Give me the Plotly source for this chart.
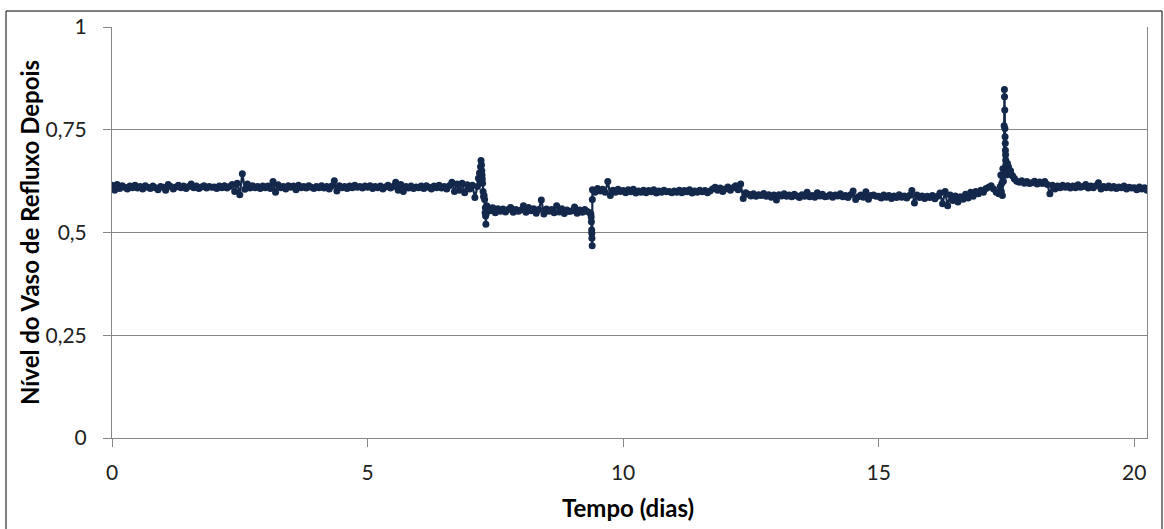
import plotly.graph_objects as go

# Reflux vessel level logged every 0.05 day (one row per day, 20 samples each)
SAMPLE_INTERVAL_DAYS = 0.05
level_by_day = [
    [0.615, 0.603, 0.617, 0.607, 0.614, 0.610, 0.606, 0.613, 0.609, 0.615, 0.608, 0.612, 0.606, 0.614, 0.610, 0.607, 0.613, 0.609, 0.604, 0.612],
    [0.610, 0.603, 0.617, 0.612, 0.606, 0.611, 0.615, 0.609, 0.613, 0.607, 0.612, 0.618, 0.609, 0.613, 0.607, 0.611, 0.614, 0.608, 0.612, 0.610],
    [0.611, 0.607, 0.613, 0.609, 0.614, 0.608, 0.612, 0.617, 0.600, 0.620, 0.592, 0.643, 0.605, 0.618, 0.608, 0.614, 0.609, 0.612, 0.607, 0.613],
    [0.609, 0.613, 0.607, 0.624, 0.598, 0.616, 0.609, 0.612, 0.606, 0.614, 0.610, 0.613, 0.604, 0.615, 0.609, 0.612, 0.608, 0.614, 0.610, 0.607],
    [0.612, 0.609, 0.614, 0.608, 0.612, 0.606, 0.613, 0.626, 0.601, 0.614, 0.609, 0.612, 0.607, 0.613, 0.609, 0.615, 0.610, 0.612, 0.608, 0.613],
    [0.610, 0.614, 0.607, 0.612, 0.609, 0.613, 0.606, 0.611, 0.615, 0.608, 0.612, 0.622, 0.603, 0.617, 0.600, 0.612, 0.608, 0.613, 0.607, 0.611],
    [0.609, 0.613, 0.607, 0.614, 0.610, 0.606, 0.613, 0.609, 0.615, 0.608, 0.612, 0.606, 0.614, 0.622, 0.600, 0.618, 0.603, 0.620, 0.597, 0.616],
    [0.606, 0.615, 0.585, 0.612, 0.625, 0.620, 0.548, 0.562, 0.553, 0.560, 0.548, 0.558, 0.552, 0.557, 0.550, 0.556, 0.561, 0.549, 0.556, 0.552],
    [0.555, 0.565, 0.549, 0.561, 0.553, 0.558, 0.547, 0.556, 0.579, 0.545, 0.557, 0.552, 0.556, 0.548, 0.565, 0.550, 0.558, 0.546, 0.555, 0.551],
    [0.553, 0.562, 0.547, 0.555, 0.549, 0.556, 0.551, 0.548, 0.604, 0.598, 0.607, 0.601, 0.605, 0.598, 0.624, 0.590, 0.603, 0.598, 0.605, 0.600],
    [0.602, 0.597, 0.604, 0.599, 0.605, 0.596, 0.601, 0.598, 0.603, 0.597, 0.602, 0.599, 0.604, 0.596, 0.601, 0.598, 0.603, 0.599, 0.600, 0.597],
    [0.601, 0.598, 0.603, 0.597, 0.602, 0.599, 0.604, 0.596, 0.601, 0.598, 0.603, 0.599, 0.602, 0.597, 0.601, 0.606, 0.610, 0.603, 0.608, 0.600],
    [0.606, 0.611, 0.603, 0.609, 0.614, 0.604, 0.618, 0.583, 0.597, 0.593, 0.589, 0.594, 0.588, 0.592, 0.590, 0.595, 0.588, 0.592, 0.586, 0.591],
    [0.579, 0.592, 0.589, 0.594, 0.588, 0.591, 0.587, 0.593, 0.589, 0.585, 0.592, 0.588, 0.598, 0.587, 0.590, 0.586, 0.597, 0.589, 0.593, 0.587],
    [0.588, 0.592, 0.586, 0.591, 0.589, 0.594, 0.587, 0.590, 0.585, 0.592, 0.601, 0.580, 0.587, 0.591, 0.586, 0.599, 0.581, 0.590, 0.591, 0.588],
    [0.588, 0.584, 0.591, 0.586, 0.590, 0.583, 0.589, 0.585, 0.592, 0.586, 0.589, 0.584, 0.590, 0.602, 0.572, 0.591, 0.585, 0.589, 0.583, 0.588],
    [0.585, 0.590, 0.582, 0.588, 0.596, 0.570, 0.600, 0.565, 0.591, 0.578, 0.589, 0.574, 0.587, 0.581, 0.593, 0.584, 0.598, 0.588, 0.600, 0.594],
    [0.603, 0.598, 0.607, 0.610, 0.614, 0.606, 0.598, 0.594, 0.600, 0.640, 0.660, 0.648, 0.640, 0.632, 0.625, 0.622, 0.626, 0.620, 0.624, 0.619],
    [0.621, 0.625, 0.618, 0.623, 0.619, 0.624, 0.617, 0.594, 0.615, 0.606, 0.613, 0.609, 0.615, 0.610, 0.614, 0.608, 0.613, 0.609, 0.616, 0.610],
    [0.612, 0.617, 0.608, 0.613, 0.609, 0.614, 0.621, 0.606, 0.612, 0.609, 0.613, 0.608, 0.612, 0.607, 0.611, 0.609, 0.613, 0.606, 0.610, 0.608],
    [0.609, 0.604, 0.611, 0.606, 0.609, 0.603],
]

# Extra fast-logged readings during the three upsets (day, level)
upset_days = [
    7.17, 7.19, 7.21, 7.22, 7.23, 7.235, 7.24, 7.245, 7.26, 7.27, 7.28, 7.29, 7.305, 7.31, 7.315, 7.32, 7.33,
    9.37, 9.375, 9.38, 9.385, 9.388, 9.39, 9.395, 9.398,
    17.38, 17.39, 17.41, 17.42, 17.43, 17.44, 17.455, 17.46, 17.463, 17.467, 17.47, 17.473, 17.477,
    17.48, 17.483, 17.487, 17.49, 17.493, 17.497, 17.51, 17.52, 17.53, 17.54, 17.56, 17.58, 17.62, 17.66,
]
upset_levels = [
    0.632, 0.645, 0.660, 0.675, 0.664, 0.650, 0.640, 0.630, 0.600, 0.587, 0.590, 0.580, 0.560, 0.540, 0.520, 0.545, 0.565,
    0.545, 0.538, 0.526, 0.506, 0.498, 0.486, 0.468, 0.580,
    0.612, 0.640, 0.620, 0.590, 0.655, 0.625, 0.760, 0.848, 0.830, 0.798, 0.753, 0.733, 0.717,
    0.700, 0.689, 0.676, 0.664, 0.652, 0.640, 0.655, 0.668, 0.650, 0.660, 0.645, 0.650, 0.638, 0.630,
]

x_ticks = [0, 5, 10, 15, 20]
y_ticks = [0, 0.25, 0.5, 0.75, 1]

# Merge the regular log with the upset readings in time order
points = []
i = 0
for row in level_by_day:
    for v in row:
        points.append((round(i * SAMPLE_INTERVAL_DAYS, 4), v))
        i += 1
points += list(zip(upset_days, upset_levels))
points.sort(key=lambda p: p[0])
days = [p[0] for p in points]
levels = [p[1] for p in points]

NAVY = "#13284b"
GRID = "#878787"
FONT = "Lato"

fig = go.Figure()
fig.add_trace(go.Scatter(
    x=days, y=levels, mode="lines+markers",
    line=dict(color=NAVY, width=2.2),
    marker=dict(color=NAVY, size=7),
    showlegend=False, hoverinfo="x+y",
))

fig.update_layout(
    width=1164, height=529,
    margin=dict(l=112, r=17, t=27, b=91),
    paper_bgcolor="white", plot_bgcolor="white",
    separators=",.",
    font=dict(family=FONT, size=21, color="#222222"),
    xaxis=dict(
        range=[0, 20.25], tickvals=x_ticks, showgrid=False, zeroline=False,
        showline=True, linecolor=GRID, linewidth=1,
        ticks="outside", ticklen=8, tickcolor=GRID, tickwidth=1,
        ticklabelstandoff=8,
    ),
    yaxis=dict(
        range=[0, 1], tickvals=y_ticks, showgrid=True, gridcolor=GRID, gridwidth=1,
        zeroline=False, showline=True, linecolor=GRID, linewidth=1, mirror=True,
        ticks="outside", ticklen=8, tickcolor=GRID, tickwidth=1,
        ticklabelstandoff=12,
    ),
    shapes=[dict(
        type="rect", xref="paper", yref="paper",
        x0=-0.1024, x1=1.0145, y0=-0.25, y1=1.0389,
        line=dict(color="#000000", width=1), layer="below",
    )],
    annotations=[
        dict(text="<b>Tempo (dias)</b>", xref="paper", yref="paper",
             x=0.4986, y=-0.1703, xanchor="center", yanchor="middle",
             showarrow=False, font=dict(family=FONT, size=24, color="#000000")),
        dict(text="<b>Nível do Vaso de Refluxo Depois</b>", xref="paper", yref="paper",
             x=-0.0802, y=0.501, xanchor="center", yanchor="middle", textangle=-90,
             showarrow=False, font=dict(family=FONT, size=24, color="#000000")),
    ],
)

fig.write_html("out.html")
